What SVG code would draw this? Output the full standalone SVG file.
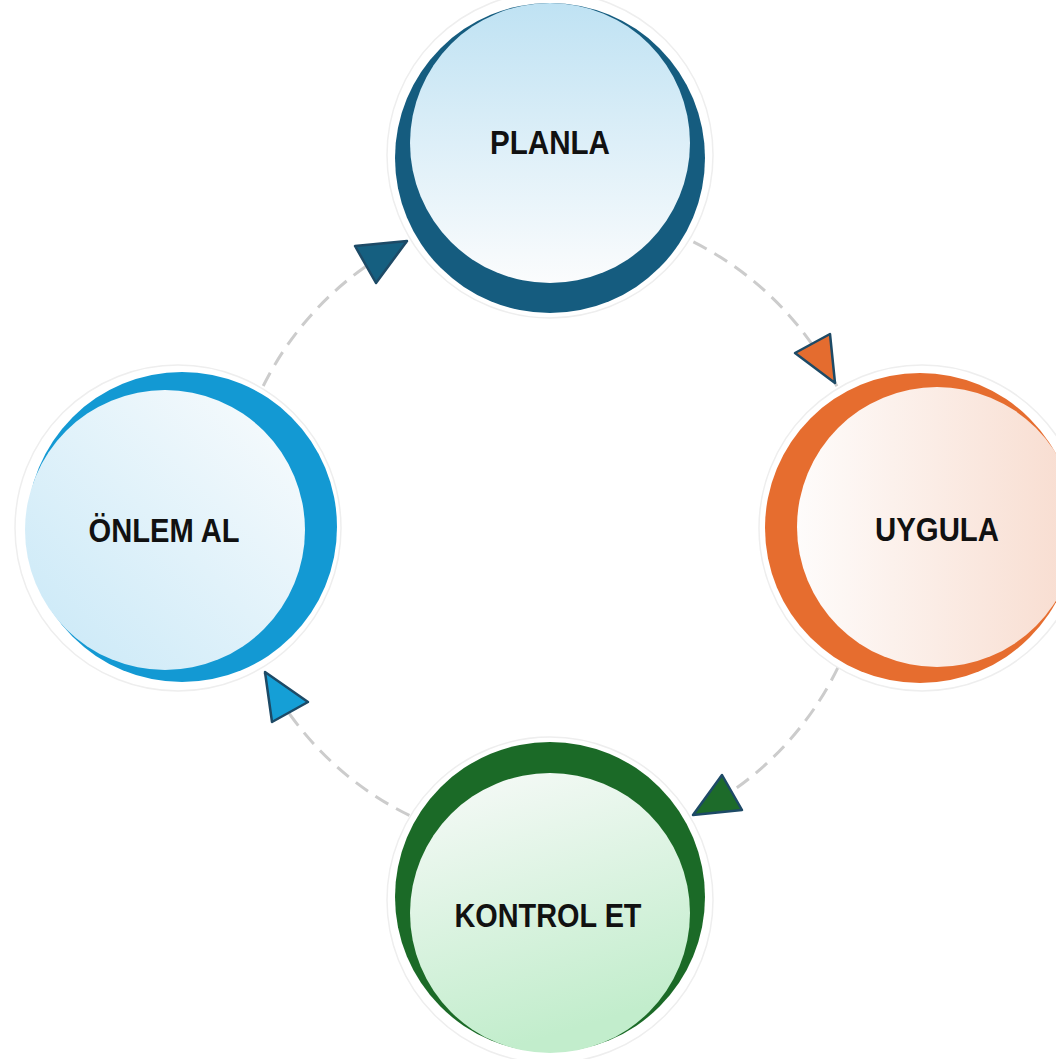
<svg xmlns="http://www.w3.org/2000/svg" width="1056" height="1059" viewBox="0 0 1056 1059">
<defs>
<linearGradient id="gPlan" x1="0" y1="0" x2="0" y2="1"><stop offset="0" stop-color="#bfe2f3"/><stop offset="1" stop-color="#fbfcfd"/></linearGradient>
<linearGradient id="gUyg" x1="0" y1="0" x2="1" y2="0"><stop offset="0" stop-color="#fefcfb"/><stop offset="1" stop-color="#f8dccf"/></linearGradient>
<linearGradient id="gKon" x1="0" y1="0" x2="0.3" y2="1"><stop offset="0" stop-color="#f8faf9"/><stop offset="1" stop-color="#c2edcc"/></linearGradient>
<linearGradient id="gOnl" x1="0" y1="1" x2="1" y2="0"><stop offset="0" stop-color="#c8e8f7"/><stop offset="1" stop-color="#fafcfd"/></linearGradient>
</defs>
<style>
.halo{fill:#ffffff;stroke:#eeeeee;stroke-width:1.5}
.lbl{font-family:"Liberation Sans",Arial,sans-serif;font-weight:bold;font-size:33px;fill:#111111;text-anchor:middle}
.arr{stroke:#1d4a66;stroke-width:2.5;stroke-linejoin:round}
</style>
<rect width="1056" height="1059" fill="#ffffff"/>
<g id="connectors">
<circle cx="550" cy="528" r="320" fill="none" stroke="#cccccc" stroke-width="3" stroke-dasharray="15 9"/>
</g>
<g id="node-planla">
<circle class="halo" cx="550" cy="155" r="163"/>
<circle cx="550" cy="158" r="155" fill="#155c7f"/>
<circle cx="550" cy="143" r="140" fill="url(#gPlan)"/>
<text class="lbl" x="550" y="154" textLength="120" lengthAdjust="spacingAndGlyphs">PLANLA</text>
</g>
<g id="node-uygula">
<circle class="halo" cx="922" cy="528" r="163"/>
<circle cx="920" cy="528" r="155" fill="#e66d2f"/>
<circle cx="937" cy="527" r="140" fill="url(#gUyg)"/>
<text class="lbl" x="937" y="541" textLength="124" lengthAdjust="spacingAndGlyphs">UYGULA</text>
</g>
<g id="node-kontrol">
<circle class="halo" cx="550" cy="900" r="163"/>
<circle cx="550" cy="897" r="155" fill="#1b6a27"/>
<circle cx="550" cy="913" r="140" fill="url(#gKon)"/>
<text class="lbl" x="548" y="927" textLength="187" lengthAdjust="spacingAndGlyphs">KONTROL ET</text>
</g>
<g id="node-onlem">
<circle class="halo" cx="178" cy="528" r="163"/>
<circle cx="182" cy="527" r="155" fill="#1399d3"/>
<circle cx="165" cy="530" r="140" fill="url(#gOnl)"/>
<text class="lbl" x="164" y="542" textLength="151" lengthAdjust="spacingAndGlyphs">ÖNLEM AL</text>
</g>
<g id="arrowheads">
<polygon class="arr" points="355,246 407,241 376,283" fill="#155f80" stroke="#155f80"/>
<polygon class="arr" points="795,353 830,334 835,383" fill="#e46c2f"/>
<polygon class="arr" points="722,775 742,810 693,815" fill="#1d6b2a"/>
<polygon class="arr" points="265,672 308,702 272,722" fill="#159fd6"/>
</g>
</svg>
